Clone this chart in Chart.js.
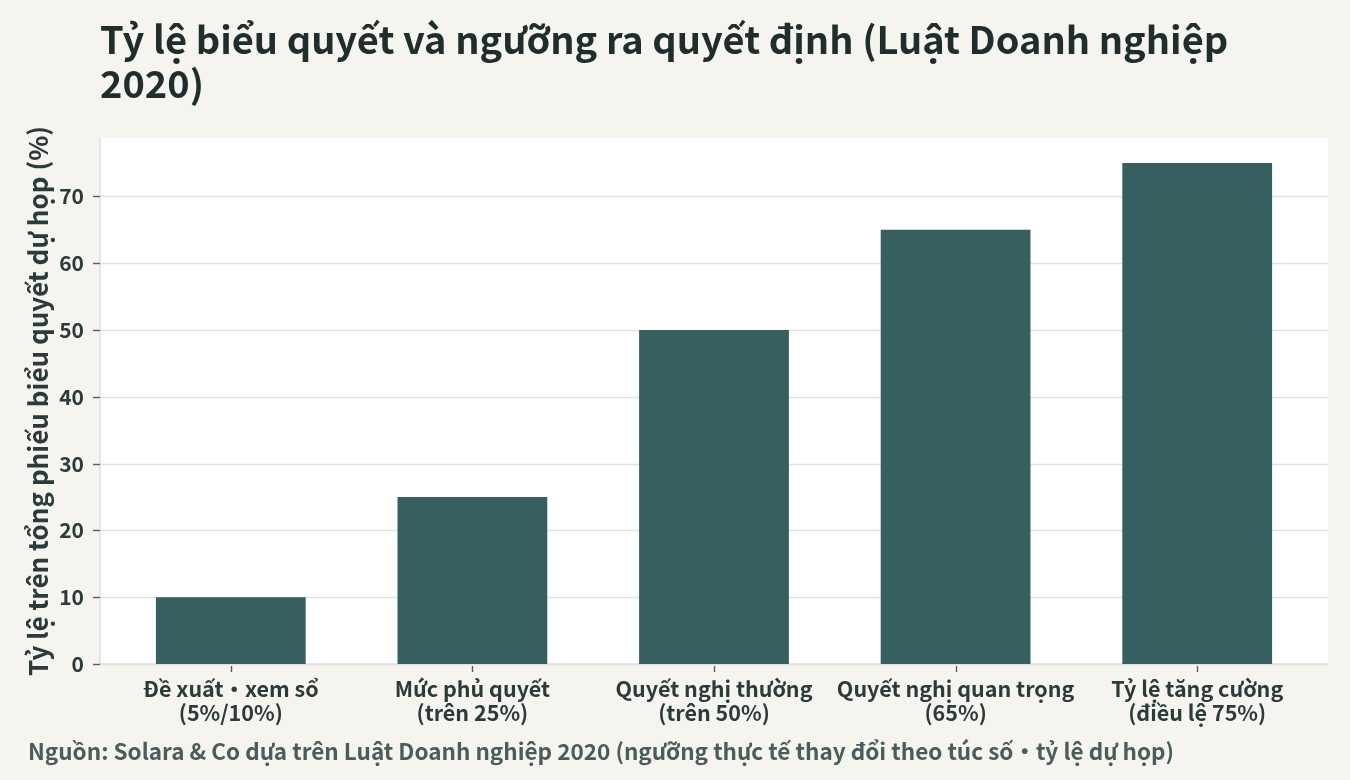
<!DOCTYPE html>
<html><head><meta charset="utf-8">
<script src="https://cdn.jsdelivr.net/npm/chart.js@4.4.0/dist/chart.umd.min.js"></script>
<style>
html,body{margin:0;padding:0;background:#f5f4ef;}
#wrap{position:relative;width:1350px;height:780px;}
#title{position:absolute;left:100px;top:16px;font:700 38px "Noto Sans CJK JP",sans-serif;color:#1f2d2d;line-height:44px;width:1240px;}
#src{position:absolute;left:28px;top:734px;font:700 22.5px "Noto Sans CJK JP",sans-serif;color:#4b5c5c;white-space:nowrap;}
canvas{position:absolute;left:0;top:0;}
</style></head><body>
<div id="wrap">
<canvas id="c" width="1350" height="780"></canvas>
<div id="title">Tỷ lệ biểu quyết và ngưỡng ra quyết định (Luật Doanh nghiệp<br>2020)</div>
<div id="src">Nguồn: Solara &amp; Co dựa trên Luật Doanh nghiệp 2020 (ngưỡng thực tế thay đổi theo túc số・tỷ lệ dự họp)</div>
</div>
<script>
const categories = [
  ["Đề xuất・xem sổ","(5%/10%)"],
  ["Mức phủ quyết","(trên 25%)"],
  ["Quyết nghị thường","(trên 50%)"],
  ["Quyết nghị quan trọng","(65%)"],
  ["Tỷ lệ tăng cường","(điều lệ 75%)"]
];
const values = [10, 25, 50, 65, 75];
const yAxisTitle = "Tỷ lệ trên tổng phiếu biểu quyết dự họp (%)";

const FONT = '"Noto Sans CJK JP", sans-serif';
const EXT = 10;
const panel = {
  id:'panel',
  beforeDatasetsDraw(chart){
    const {ctx, chartArea:a, scales:{x,y}} = chart;
    const L = a.left-EXT, R = a.right+EXT;
    ctx.save();
    ctx.fillStyle='#ffffff';
    ctx.fillRect(L, a.top, R-L, a.bottom-a.top);
    ctx.strokeStyle='#dde3e2'; ctx.lineWidth=1.6;
    y.ticks.forEach(t=>{
      const py=Math.round(y.getPixelForValue(t.value))+0.5;
      ctx.beginPath(); ctx.moveTo(L,py); ctx.lineTo(R,py); ctx.stroke();
    });
    ctx.beginPath(); ctx.moveTo(L,a.top); ctx.lineTo(L,a.bottom); ctx.lineTo(R,a.bottom); ctx.stroke();
    ctx.strokeStyle='#555f5f'; ctx.lineWidth=1.4;
    y.ticks.forEach(t=>{
      const py=Math.round(y.getPixelForValue(t.value))+0.5;
      ctx.beginPath(); ctx.moveTo(L-7,py); ctx.lineTo(L,py); ctx.stroke();
    });
    x.ticks.forEach((t,i)=>{
      const px=Math.round(x.getPixelForTick(i))+0.5;
      ctx.beginPath(); ctx.moveTo(px,a.bottom+2); ctx.lineTo(px,a.bottom+8); ctx.stroke();
    });
    ctx.restore();
  }
};

new Chart(document.getElementById('c'), {
  type:'bar',
  data:{labels:categories, datasets:[{data:values, backgroundColor:'#385f5f', barPercentage:0.62, categoryPercentage:1}]},
  options:{
    responsive:false, animation:false,
    layout:{padding:{left:0,right:32,top:138,bottom:0}},
    plugins:{legend:{display:false}, tooltip:{enabled:false}},
    scales:{
      x:{
        grid:{display:false, drawTicks:false}, border:{display:false},
        ticks:{color:'#2b3a3a', font:{family:FONT, size:21.5, weight:'bold', lineHeight:1.12}, padding:13, maxRotation:0, autoSkip:false},
        afterFit(s){ s.height = 116; }
      },
      y:{
        min:0, max:78.75,
        grid:{display:false, drawTicks:false}, border:{display:false},
        ticks:{stepSize:10, includeBounds:false, color:'#2b3a3a', font:{family:FONT, size:21, weight:'bold'}, padding:26},
        title:{display:true, text:yAxisTitle, color:'#2b3a3a', font:{family:FONT, size:26, weight:'bold'}, padding:{top:23,bottom:0}},
        afterFit(s){ s.width = 110; }
      }
    }
  },
  plugins:[panel]
});
</script>
</body></html>
